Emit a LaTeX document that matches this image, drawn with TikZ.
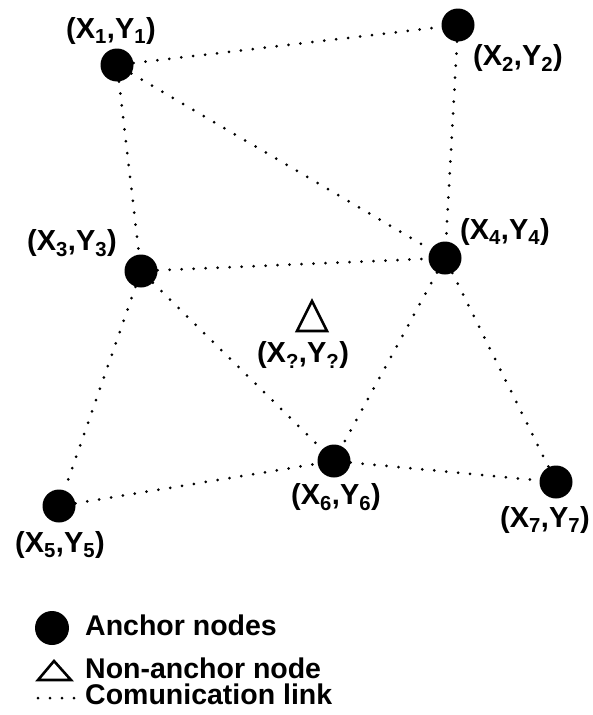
\documentclass[tikz,border=0pt]{standalone}
\usepackage{fontspec}
\setmainfont{Liberation Sans}
\newcommand\xylab[1]{(X\textsubscript{#1},Y\textsubscript{#1})}
\begin{document}
\begin{tikzpicture}[x=1pt,y=-1pt,
  anchornode/.style={circle,fill=black,inner sep=0pt,minimum size=33pt},
  link/.style={line width=3pt,line cap=round,dash pattern=on 0pt off 12pt},
  lbl/.style={font=\bfseries\fontsize{29}{32}\selectfont,inner sep=0pt},
  legtext/.style={font=\bfseries\fontsize{28.5}{32}\selectfont,inner sep=0pt,anchor=base west,text height=0.7em,text depth=0pt},
  tri/.style={draw,line width=2.6pt,line join=miter}]
\useasboundingbox (0,0) rectangle (593,715);
% anchor nodes
\node[anchornode] (n1) at (117,65) {};
\node[anchornode] (n2) at (458,25) {};
\node[anchornode] (n3) at (141,271) {};
\node[anchornode] (n4) at (445,258) {};
\node[anchornode] (n5) at (59,506) {};
\node[anchornode] (n6) at (334,461) {};
\node[anchornode] (n7) at (556,482) {};
% links
\draw[link] (n1) -- (n2);
\draw[link] (n1) -- (n3);
\draw[link] (n1) -- (n4);
\draw[link] (n2) -- (n4);
\draw[link] (n3) -- (n4);
\draw[link] (n3) -- (n5);
\draw[link] (n3) -- (n6);
\draw[link] (n4) -- (n6);
\draw[link] (n4) -- (n7);
\draw[link] (n5) -- (n6);
\draw[link] (n6) -- (n7);
% non-anchor node
\coordinate (t) at (312,316);
\draw[tri] (297,331) -- (312,301) -- (327,331) -- cycle;
% labels
\node[lbl] (l1) at (111,31) {\xylab{1}};
\node[lbl] (l2) at (518,58) {\xylab{2}};
\node[lbl] (l3) at (72,243) {\xylab{3}};
\node[lbl] (l4) at (505,232) {\xylab{4}};
\node[lbl] (lt) at (303,355) {\xylab{?}};
\node[lbl] (l6) at (336,497) {\xylab{6}};
\node[lbl] (l5) at (60,545) {\xylab{5}};
\node[lbl] (l7) at (545,520) {\xylab{7}};
% legend
\node[anchornode,minimum size=34pt] (legc) at (52,628) {};
\node[legtext] (leg1) at (85,635) {Anchor nodes};
\draw[tri] (38,680) -- (54,661) -- (71,680) -- cycle;
\node[legtext] (leg2) at (85,678) {Non-anchor node};
\coordinate (ld1) at (38,698);
\coordinate (ld2) at (74,698);
\draw[link] (ld1) -- (ld2);
\node[legtext] (leg3) at (85,704) {Comunication link};
\end{tikzpicture}
\end{document}
